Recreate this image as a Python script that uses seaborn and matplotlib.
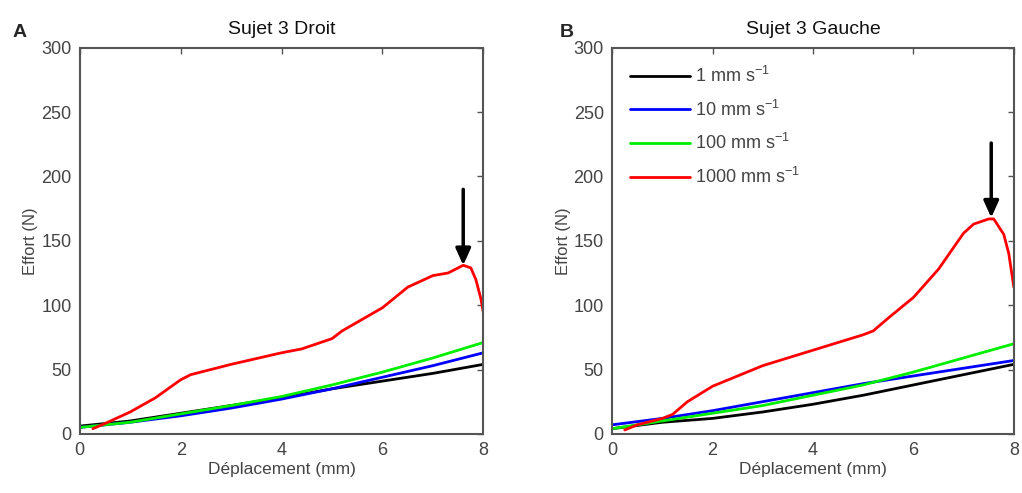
import matplotlib
matplotlib.use("Agg")
import matplotlib.pyplot as plt
import seaborn as sns
import pandas as pd

# Sujet 3 Droit (panel A)
x_a = [0, 1, 2, 3, 4, 5, 6, 7, 8]
black_a = [6, 10, 16, 22, 28, 35, 41, 47, 54]
blue_a = [5, 9, 14, 20, 27, 35, 44, 53, 63]
green_a = [5, 9, 15.5, 22, 29, 38, 48, 59, 71]
red_x_a = [0.26, 0.5, 1.0, 1.5, 2.0, 2.2, 3.0, 4.0, 4.4, 5.0, 5.2, 6.0, 6.5, 7.0, 7.3, 7.6, 7.75, 7.85, 7.95, 8.0]
red_a = [4, 8, 17, 28, 42, 46, 54, 63, 66, 74, 80, 98, 114, 123, 125, 131, 129, 120, 105, 94]

# Sujet 3 Gauche (panel B)
x_b = [0, 1, 2, 3, 4, 5, 6, 7, 8]
black_b = [4, 9, 12, 17, 23, 30, 38, 46, 54]
blue_b = [7, 12, 18, 25, 32, 39, 45, 51, 57]
green_b = [4, 10, 16, 22, 30, 38, 48, 59, 70]
red_x_b = [0.25, 0.5, 1.0, 1.2, 1.5, 2.0, 2.5, 3.0, 3.5, 4.0, 4.5, 5.0, 5.2, 5.5, 6.0, 6.5, 7.0, 7.2, 7.5, 7.6, 7.8, 7.9, 8.0]
red_b = [3, 7, 12, 15, 25, 37, 45, 53, 59, 65, 71, 77, 80, 90, 106, 128, 156, 163, 167, 167, 155, 140, 114]

speeds = ["1 mm s$^{\\mathregular{-1}}$", "10 mm s$^{\\mathregular{-1}}$",
          "100 mm s$^{\\mathregular{-1}}$", "1000 mm s$^{\\mathregular{-1}}$"]
colors = ["#000000", "#0000ff", "#00ee00", "#ff0000"]

# arrows: (x, top, tip)
arrow_a = (7.6, 190, 131)
arrow_b = (7.55, 226, 168)


def make_df(x, black, blue, green, red_x, red):
    parts = []
    for lab, xs, ys in zip(speeds, [x, x, x, red_x], [black, blue, green, red]):
        parts.append(pd.DataFrame({"x": xs, "y": ys, "vitesse": lab}))
    return pd.concat(parts, ignore_index=True)


df_a = make_df(x_a, black_a, blue_a, green_a, red_x_a, red_a)
df_b = make_df(x_b, black_b, blue_b, green_b, red_x_b, red_b)

sns.set_style("white")
plt.rcParams["font.family"] = ["Liberation Sans", "DejaVu Sans"]
plt.rcParams["mathtext.fontset"] = "custom"
plt.rcParams["mathtext.rm"] = "Liberation Sans"
plt.rcParams["mathtext.it"] = "Liberation Sans"

fig = plt.figure(figsize=(10.22, 4.93), dpi=100)
ax_a = fig.add_axes([0.078, 0.12, 0.395, 0.783])
ax_b = fig.add_axes([0.599, 0.12, 0.393, 0.783])

grey = "#555555"
for ax, df, title, letter, arr in [
    (ax_a, df_a, "Sujet 3 Droit", "A", arrow_a),
    (ax_b, df_b, "Sujet 3 Gauche", "B", arrow_b),
]:
    sns.lineplot(data=df, x="x", y="y", hue="vitesse", palette=colors,
                 hue_order=speeds, sort=False, estimator=None,
                 linewidth=2, ax=ax, legend=(ax is ax_b))
    ax.set_xlim(0, 8)
    ax.set_ylim(0, 300)
    ax.set_xticks([0, 2, 4, 6, 8])
    ax.set_yticks([0, 50, 100, 150, 200, 250, 300])
    ax.tick_params(direction="in", top=True, right=True, length=4, width=1,
                   color=grey, labelcolor="#444444", labelsize=13, pad=6)
    for s in ax.spines.values():
        s.set_color(grey)
        s.set_linewidth(1.5)
    ax.set_xlabel("Déplacement (mm)", fontsize=12.5, color="#444444", labelpad=2)
    ax.set_ylabel("Effort (N)", fontsize=12, color="#444444", labelpad=2)
    ax.set_title(title, fontsize=14, color="#111111", pad=10)
    ax.annotate("", xy=(arr[0], arr[2]), xytext=(arr[0], arr[1]),
                arrowprops=dict(arrowstyle="-|>,head_width=0.45,head_length=1.0",
                                color="black", lw=2.5, shrinkA=0, shrinkB=0))

fig.text(0.012, 0.925, "A", fontsize=14, fontweight="bold")
fig.text(0.548, 0.925, "B", fontsize=14, fontweight="bold")

leg = ax_b.legend(loc="upper left", frameon=False, fontsize=13,
                  handlelength=3.3, labelspacing=0.75, handletextpad=0.3,
                  borderaxespad=0.6)
for t in leg.get_texts():
    t.set_color("#444444")

fig.savefig("out.png", dpi=100)
